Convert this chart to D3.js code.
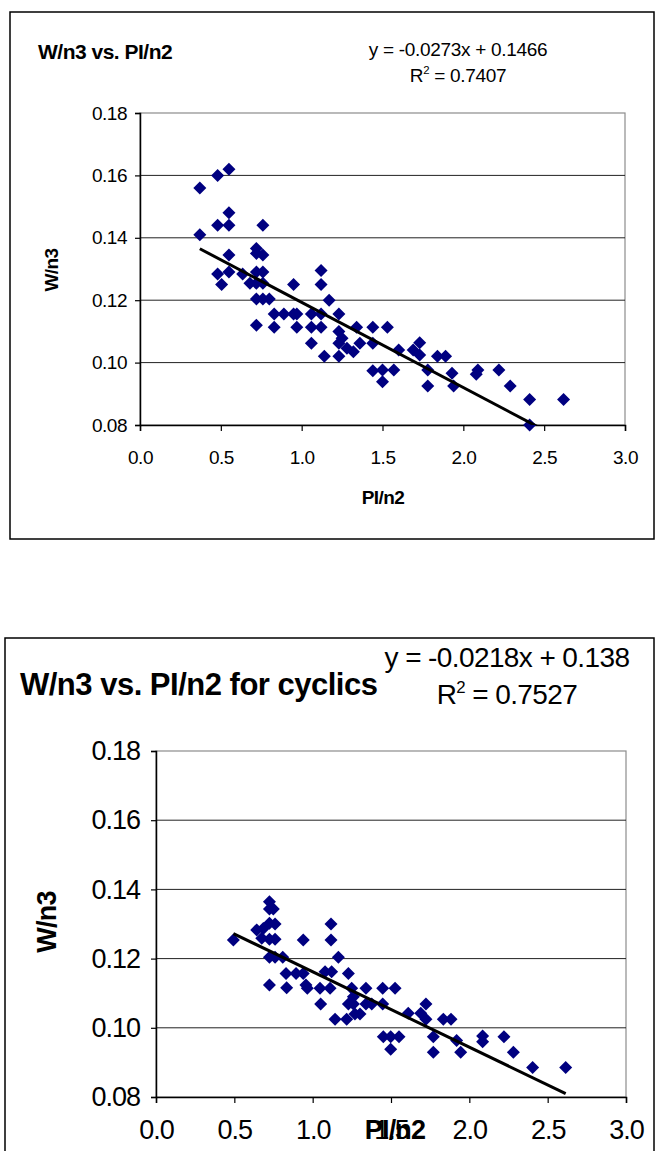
<!DOCTYPE html>
<html><head><meta charset="utf-8">
<script src="https://cdn.jsdelivr.net/npm/d3@7"></script>
<style>body{margin:0;background:#fff}svg{display:block}text{font-family:"Liberation Sans",Arial,sans-serif;fill:#000}</style>
</head><body><svg id="c" width="655" height="1151"></svg>
<script>
// ---- data ----
const xTicks = [0, 0.5, 1.0, 1.5, 2.0, 2.5, 3.0];
const yTicks = [0.08, 0.10, 0.12, 0.14, 0.16, 0.18];

const topX = [0.37,0.48,0.55,0.55,0.48,0.55,0.76,0.37,0.55,0.72,0.72,0.76,0.48,0.55,0.505,0.635,0.68,0.72,0.76,0.72,0.76,0.95,1.12,1.12,0.72,0.76,0.80,1.17,0.72,0.83,0.83,0.89,0.95,0.97,0.97,1.06,1.12,1.06,1.12,1.06,1.23,1.23,1.25,1.34,1.44,1.23,1.28,1.32,1.36,1.44,1.14,1.23,1.44,1.50,1.53,1.60,1.73,1.69,1.73,1.84,1.89,1.50,1.57,1.78,1.78,1.93,1.94,2.08,2.09,2.22,2.29,2.41,2.62,2.41];
const topY = [0.156,0.160,0.162,0.148,0.144,0.144,0.144,0.141,0.1345,0.1366,0.135,0.1345,0.1284,0.129,0.125,0.1284,0.1254,0.129,0.129,0.1254,0.1254,0.125,0.1295,0.125,0.1204,0.1204,0.1204,0.120,0.112,0.1113,0.1156,0.1156,0.1156,0.1156,0.1113,0.1156,0.1156,0.1113,0.1113,0.1062,0.1156,0.110,0.1078,0.1113,0.1113,0.1062,0.1046,0.1035,0.1062,0.1062,0.102,0.102,0.0974,0.0939,0.1113,0.104,0.1064,0.104,0.1024,0.102,0.102,0.0976,0.0976,0.0976,0.0925,0.0966,0.0925,0.0963,0.0976,0.0976,0.0925,0.0882,0.0882,0.080];
const topSlope = -0.0273, topIntercept = 0.1466;
const topTitle = "W/n3 vs. PI/n2";
const topEq = "y = -0.0273x + 0.1466";
const topR2 = "0.7407";

const botX = [0.494,0.643,0.675,0.724,0.749,0.724,0.724,0.76,0.685,0.724,0.76,0.724,0.76,0.809,0.724,0.83,0.894,0.834,0.94,0.94,0.957,0.966,1.047,1.051,1.079,1.121,1.111,1.117,1.117,1.164,1.143,1.228,1.249,1.26,1.228,1.26,1.217,1.27,1.302,1.34,1.34,1.377,1.447,1.526,1.447,1.61,1.451,1.498,1.551,1.498,1.723,1.69,1.723,1.834,1.883,1.77,1.77,1.919,1.945,2.085,2.085,2.221,2.281,2.404,2.615];
const botY = [0.1254,0.1283,0.1259,0.1364,0.1343,0.1343,0.1302,0.130,0.1287,0.1256,0.1256,0.1204,0.1204,0.1204,0.1124,0.1157,0.1157,0.1116,0.1254,0.1157,0.1124,0.1114,0.1114,0.1069,0.1162,0.1162,0.1114,0.130,0.1254,0.1204,0.1025,0.1157,0.1114,0.1090,0.1069,0.1069,0.1025,0.1040,0.1040,0.1114,0.1069,0.1069,0.1114,0.1114,0.1069,0.1042,0.0974,0.0974,0.0974,0.0938,0.1069,0.1042,0.1025,0.1025,0.1025,0.0974,0.0929,0.0963,0.0929,0.0976,0.096,0.0974,0.0929,0.0885,0.0885];
const botSlope = -0.0218, botIntercept = 0.138;
const botTitle = "W/n3 vs. PI/n2 for cyclics";
const botEq = "y = -0.0218x + 0.138";
const botR2 = "0.7527";

const xLabel = "PI/n2", yLabel = "W/n3";

// ---- drawing ----
const svg = d3.select("#c");
const diamond = "M0,-6.5L6.5,0L0,6.5L-6.5,0Z";
const FF = '"Liberation Sans",Arial,sans-serif';

function drawChart(id, xs, ys, slope, intercept, title, eq, r2, L) {
  const g = svg.append("g");
  g.append("rect").attr("x", L.fx).attr("y", L.fy).attr("width", L.fw).attr("height", L.fh)
    .attr("fill", "#fff").attr("stroke", "#000").attr("stroke-width", 1.5);

  const x = d3.scaleLinear().domain([0, 3]).range([L.x0, L.x1]);
  const y = d3.scaleLinear().domain([0.08, 0.18]).range([L.y1, L.y0]);

  g.append("rect").attr("x", L.x0).attr("y", L.y0).attr("width", L.x1 - L.x0).attr("height", L.y1 - L.y0)
    .attr("fill", "none").attr("stroke", "#8c8c8c").attr("stroke-width", 1.2);

  g.append("g").selectAll("line").data(yTicks.filter(v => v > 0.081 && v < 0.179)).join("line")
    .attr("x1", L.x0).attr("x2", L.x1).attr("y1", d => y(d)).attr("y2", d => y(d))
    .attr("stroke", "#222").attr("stroke-width", 1);

  const ax = g.append("g").attr("transform", `translate(0,${L.y1})`)
    .call(d3.axisBottom(x).tickValues(xTicks).tickSize(6).tickFormat(d3.format(".1f")));
  ax.select(".domain").attr("stroke", "#000").attr("stroke-width", 1.5);
  ax.selectAll(".tick line").attr("stroke", "#000").attr("stroke-width", 1.2);
  ax.selectAll(".tick text").attr("font-size", L.tf).attr("letter-spacing", L.ls).attr("dy", L.xdy)
    .attr("font-family", FF).attr("fill", "#000");

  const ay = g.append("g").attr("transform", `translate(${L.x0},0)`)
    .call(d3.axisLeft(y).tickValues(yTicks).tickSize(5).tickFormat(d3.format(".2f")));
  ay.select(".domain").attr("stroke", "#000").attr("stroke-width", 1.5);
  ay.selectAll(".tick line").attr("stroke", "#000").attr("stroke-width", 1.2);
  ay.selectAll(".tick text").attr("font-size", L.tf).attr("letter-spacing", L.ls).attr("dx", L.ydx)
    .attr("font-family", FF).attr("fill", "#000");

  const pts = xs.map((v, i) => [v, ys[i]]);
  g.append("g").selectAll("path").data(pts).join("path")
    .attr("d", diamond).attr("transform", d => `translate(${x(d[0])},${y(d[1])})`)
    .attr("fill", "#000080");

  g.append("clipPath").attr("id", id + "clip").append("rect")
    .attr("x", L.x0).attr("y", L.y0 - 1).attr("width", L.x1 - L.x0).attr("height", L.y1 - L.y0 + 1);
  const xmin = d3.min(xs), xmax = d3.max(xs);
  const fit = [xmin, xmax].map(v => [v, slope * v + intercept]);
  g.append("path").attr("clip-path", `url(#${id}clip)`)
    .attr("d", d3.line().x(d => x(d[0])).y(d => y(d[1]))(fit))
    .attr("stroke", "#000").attr("stroke-width", 3).attr("fill", "none");

  g.append("text").attr("x", L.titleX).attr("y", L.titleY).attr("font-size", L.titleF)
    .attr("font-weight", "bold").attr("letter-spacing", L.tls).text(title);
  g.append("text").attr("x", L.eqX).attr("y", L.eqY).attr("font-size", L.eqF)
    .attr("text-anchor", "middle").attr("letter-spacing", L.els).text(eq);
  const r = g.append("text").attr("x", L.eqX).attr("y", L.r2Y).attr("font-size", L.eqF)
    .attr("text-anchor", "middle").attr("letter-spacing", L.els);
  r.append("tspan").text("R");
  r.append("tspan").attr("font-size", L.eqF * 0.6).attr("dy", -L.eqF * 0.4).text("2");
  r.append("tspan").attr("dy", L.eqF * 0.4).text(" = " + r2);

  g.append("text").attr("x", L.xlX).attr("y", L.xlY).attr("font-size", L.alF).attr("font-weight", "bold")
    .attr("text-anchor", "middle").attr("letter-spacing", L.als).text(xLabel);
  g.append("text").attr("transform", `translate(${L.ylX},${L.ylY}) rotate(-90)`)
    .attr("font-size", L.alF).attr("font-weight", "bold")
    .attr("text-anchor", "middle").attr("letter-spacing", L.als).text(yLabel);
}

drawChart("top", topX, topY, topSlope, topIntercept, topTitle, topEq, topR2, {
  fx: 10, fy: 12, fw: 644, fh: 527,
  x0: 140, x1: 625, y0: 113, y1: 425,
  tf: 19, ls: -0.5, xdy: "30px", ydx: "-5",
  titleX: 38, titleY: 59, titleF: 21, tls: -0.5,
  eqX: 458, eqY: 56, r2Y: 82, eqF: 19, els: -0.3,
  xlX: 383, xlY: 504, alF: 19, als: -0.6,
  ylX: 58, ylY: 270
});

drawChart("bot", botX, botY, botSlope, botIntercept, botTitle, botEq, botR2, {
  fx: 5, fy: 638, fw: 649, fh: 600,
  x0: 156, x1: 626, y0: 751, y1: 1097,
  tf: 27, ls: -1, xdy: "33px", ydx: "-8",
  titleX: 20, titleY: 695, titleF: 31, tls: -0.5,
  eqX: 507, eqY: 667, r2Y: 704, eqF: 28, els: -0.6,
  xlX: 395, xlY: 1139, alF: 27, als: -0.8,
  ylX: 56, ylY: 922
});
</script></body></html>
